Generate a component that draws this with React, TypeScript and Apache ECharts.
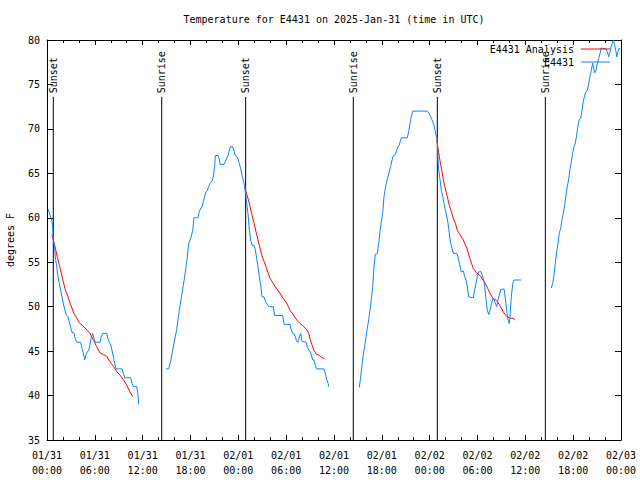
import React, { useEffect, useRef } from 'react';
import * as echarts from 'echarts';

const FONT = '"DejaVu Sans Mono", "Liberation Mono", monospace';

const chartTitle = 'Temperature for E4431 on 2025-Jan-31 (time in UTC)';
const dayLabels = ['01/31', '02/01', '02/02', '02/03'];
const yTitle = 'degrees F';
const obsName = 'E4431';
const anaName = 'E4431 Analysis';

// Sunrise / sunset times (hours since 01/31 00:00 UTC)
const eventHours = [0.79, 14.39, 24.92, 38.42, 48.96, 62.51];
const eventNames = ['Sunset', 'Sunrise', 'Sunset', 'Sunrise', 'Sunset', 'Sunrise'];
const eventLineTop = 73.6;
const eventLabelBase = 74.0;

// Observed temperature segments: [hour, degF]
const obsSeg1 = [
  [0.13, 61], [0.38, 60.3], [0.63, 59.6], [0.71, 58.8], [0.79, 57.5], [0.97, 56.8], [1.04, 55.6],
  [1.22, 54.5], [1.38, 53.4], [1.54, 52.6], [1.72, 51.9], [1.88, 51.1], [2.04, 50.4], [2.22, 49.7],
  [2.38, 49.1], [2.63, 48.9], [2.8, 48.3], [2.97, 47.7], [3.14, 47.1], [3.39, 47], [3.55, 46.4],
  [3.73, 46], [4.23, 46], [4.39, 45.3], [4.55, 44.8], [4.73, 44], [4.89, 44.6], [5.06, 44.9],
  [5.23, 45.1], [5.39, 45.7], [5.56, 46.6], [5.73, 47], [5.9, 46.4], [6.06, 46], [6.65, 46],
  [6.81, 46.6], [6.99, 47], [7.49, 47], [7.65, 46.4], [7.81, 46], [7.99, 45.7], [8.15, 45.1],
  [8.32, 44.4], [8.49, 43.6], [8.66, 43], [9.41, 43], [9.57, 42.5], [9.75, 42], [10.5, 42],
  [10.66, 41.4], [10.83, 41], [11.25, 41], [11.41, 40.1], [11.5, 39],
];
const obsSeg2 = [
  [14.93, 43], [15.27, 43], [15.43, 43.6], [15.59, 44.2], [15.77, 45.1], [15.93, 45.9], [16.09, 46.6],
  [16.27, 47.4], [16.43, 48.5], [16.6, 49.6], [16.77, 50.6], [16.93, 51.5], [17.1, 52.4], [17.27, 53.4],
  [17.44, 54.5], [17.6, 55.6], [17.77, 57.1], [17.94, 57.5], [18.1, 57.9], [18.28, 58.6], [18.44, 60],
  [18.94, 60], [19.1, 60.7], [19.28, 61.1], [19.44, 61.2], [19.61, 61.8], [19.78, 62.4], [19.94, 62.9],
  [20.11, 63.1], [20.28, 63.5], [20.45, 63.9], [20.7, 64.1], [20.86, 64.6], [21.04, 65.9], [21.11, 67],
  [21.45, 67], [21.61, 66.6], [21.7, 66], [22.2, 66], [22.37, 66.3], [22.54, 66.7], [22.7, 67],
  [22.87, 67.6], [23.04, 68], [23.29, 68], [23.46, 67.5], [23.62, 67], [23.8, 66.9], [23.96, 66.6],
  [24.12, 66.1], [24.3, 65.5], [24.46, 64.8], [24.62, 64.2], [24.8, 63.5], [24.87, 62.9], [24.96, 62.4],
  [25.05, 61.6], [25.21, 60.5], [25.38, 58.6], [25.55, 57.5], [25.72, 56.9], [25.97, 56.9], [26.13, 56.4],
  [26.3, 55.4], [26.47, 54.5], [26.63, 53.4], [26.81, 52.4], [26.97, 51.1], [27.22, 51.1], [27.39, 50.6],
  [27.56, 50.4], [27.72, 50.1], [27.89, 50], [28.39, 50], [28.56, 49], [29.57, 49], [29.73, 48],
  [30.48, 48], [30.65, 47.4], [30.82, 47], [30.98, 47], [31.15, 46.6], [31.32, 46.1], [31.49, 46],
  [31.65, 46.6], [31.82, 47], [31.99, 46.1], [32.49, 46], [32.65, 45.5], [32.83, 45.1], [32.99, 45],
  [33.15, 44.6], [33.33, 44], [33.49, 44], [33.66, 43.4], [33.83, 43], [34.75, 43], [34.91, 42.5],
  [35.09, 41.8], [35.25, 41.4], [35.33, 41],
];
const obsSeg3 = [
  [39.17, 40.9], [39.35, 42.1], [39.51, 43.4], [39.68, 44.6], [39.85, 45.5], [40.02, 46.6], [40.18, 47.6],
  [40.35, 48.5], [40.52, 49.6], [40.68, 50.8], [40.86, 52.3], [41.02, 54.5], [41.18, 55.9], [41.43, 56],
  [41.61, 57.1], [41.77, 58.4], [41.93, 59.6], [42.11, 60.5], [42.27, 62.4], [42.44, 63.3], [42.61, 64.1],
  [42.77, 64.6], [42.94, 65.2], [43.11, 65.8], [43.28, 66.5], [43.44, 67], [43.69, 67.1], [43.87, 67.6],
  [44.03, 68], [44.19, 68.2], [44.37, 68.8], [44.44, 69], [45.2, 69], [45.37, 69.7], [45.53, 70.6],
  [45.7, 71.4], [45.87, 72], [47.7, 72], [47.88, 71.8], [48.04, 71.5], [48.21, 71.2], [48.38, 70.8],
  [48.54, 70.4], [48.71, 69.7], [48.8, 69.3], [48.96, 68.8], [49.05, 66.5], [49.13, 65.4], [49.3, 64.3],
  [49.46, 63.1], [49.64, 62.4], [49.8, 61.6], [49.96, 60.9], [50.14, 60.2], [50.3, 59.4], [50.46, 58.3],
  [50.64, 57.1], [50.8, 56.6], [50.97, 56], [51.39, 56], [51.56, 55.6], [51.72, 54.9], [51.97, 53.9],
  [52.22, 54], [52.4, 53.4], [52.56, 53], [52.72, 52.3], [52.9, 51.1], [53.47, 51], [53.65, 51.9],
  [53.81, 52.6], [53.98, 53.4], [54.15, 53.9], [54.4, 54], [54.57, 53.6], [54.73, 53.2], [54.9, 52.3],
  [55.07, 50.8], [55.23, 49.6], [55.41, 49.1], [55.57, 49.6], [55.73, 50.2], [55.91, 50.9], [56.07, 50.8],
  [56.23, 50.4], [56.41, 50], [56.57, 50.8], [56.74, 51.3], [56.91, 51.9], [57.33, 52], [57.49, 50.9],
  [57.66, 49.6], [57.83, 48.5], [57.99, 48.1], [58.08, 48.9], [58.24, 51.1], [58.42, 52.6], [58.58, 53],
  [59.5, 53],
];
const obsSeg4 = [
  [63.26, 52.1], [63.43, 52.6], [63.6, 53.6], [63.76, 54.9], [63.94, 56.2], [64.1, 57.1], [64.26, 58.3],
  [64.44, 58.8], [64.6, 59.8], [64.76, 60.5], [64.94, 61.4], [65.1, 62.6], [65.27, 63.5], [65.44, 64.4],
  [65.6, 65.4], [65.77, 66.3], [65.94, 67.3], [66.11, 68], [66.27, 68.4], [66.44, 69.3], [66.61, 70.4],
  [66.77, 71.1], [66.95, 71.2], [67.11, 72.1], [67.27, 73.1], [67.45, 73.8], [67.61, 74.2], [67.77, 74.3],
  [67.95, 75.1], [68.11, 75.9], [68.28, 76.6], [68.45, 77.4], [68.53, 77], [68.7, 76.3], [68.87, 76.6],
  [69.03, 77.4], [69.2, 77.9], [69.37, 78.5], [69.53, 79.1], [70.12, 79], [70.28, 78.7], [70.46, 78.1],
  [70.62, 78.7], [70.79, 79.3], [70.96, 79.8], [71.04, 80], [71.21, 79.4], [71.37, 78.7], [71.46, 78.1],
  [71.62, 78.7], [71.79, 79.1], [71.88, 79],
];

// Analysis segments: [hour, degF]
const anaSeg1 = [
  [0.63, 58.1], [0.79, 57.5], [1.04, 56.6], [1.29, 55.6], [1.54, 54.7], [1.79, 53.8], [2.04, 52.8],
  [2.3, 51.9], [2.63, 51.1], [2.97, 50.2], [3.3, 49.4], [3.73, 48.7], [4.14, 48.1], [4.55, 47.8],
  [4.98, 47.4], [5.39, 47], [5.81, 46.3], [6.23, 45.5], [6.65, 44.8], [7.06, 44.6], [7.49, 44.4],
  [7.9, 43.8], [8.32, 43.3], [8.74, 42.7], [9.16, 42.3], [9.57, 41.8], [9.99, 41.2], [10.41, 40.4],
  [10.75, 39.9],
];
const anaSeg2 = [
  [24.8, 63.5], [24.96, 62.9], [25.21, 62.2], [25.46, 61.3], [25.72, 60.3], [25.97, 59.4], [26.22, 58.4],
  [26.47, 57.5], [26.72, 56.6], [26.97, 55.7], [27.22, 55.1], [27.47, 54.5], [27.72, 53.8], [27.97, 53.2],
  [28.39, 52.6], [28.81, 52], [29.23, 51.5], [29.64, 50.9], [30.07, 50.4], [30.48, 49.6], [30.9, 49.1],
  [31.32, 48.5], [31.74, 48.1], [32.15, 47.8], [32.58, 47.4], [32.83, 47], [32.99, 46.4], [33.24, 45.7],
  [33.49, 45.1], [33.74, 44.7], [34.16, 44.5], [34.5, 44.3], [34.83, 44.1],
];
const anaSeg3 = [
  [48.88, 68.8], [49.05, 67.8], [49.21, 66.9], [49.39, 65.9], [49.55, 65.2], [49.71, 64.3], [49.96, 63.3],
  [50.21, 62.4], [50.46, 61.4], [50.72, 60.7], [50.97, 59.9], [51.22, 59.4], [51.47, 58.6], [51.81, 58.1],
  [52.22, 57.5], [52.65, 56.6], [53.06, 55.4], [53.47, 54.3], [53.9, 53.8], [54.32, 53.5], [54.73, 53],
  [55.16, 52.3], [55.57, 51.5], [55.98, 50.9], [56.41, 50.7], [56.82, 50.1], [57.24, 49.4], [57.66, 48.9],
  [58.08, 48.7], [58.49, 48.7], [58.74, 48.5],
];

const joinSegments = (segs: number[][][]) =>
  segs.flatMap((s, i) => (i === 0 ? s : [[(segs[i - 1][segs[i - 1].length - 1][0] + s[0][0]) / 2, '-'], ...s]));

const Y_MIN = 35;
const Y_MAX = 80;
const X_MIN = 0;
const X_MAX = 72;

const LINE_ICON = 'path://M0,0H29V1H0Z';

export default function App() {
  const ref = useRef<HTMLDivElement>(null);
  useEffect(() => {
    if (!ref.current) return;
    const chart = echarts.init(ref.current, null, { renderer: 'svg' });
    const xLabel = (v: number) => {
      const d = Math.floor(v / 24);
      const h = Math.round(v - d * 24);
      return dayLabels[d] + '\n' + String(h).padStart(2, '0') + ':00';
    };
    const axisLineStyle = { color: '#000', width: 1 };
    const baseX = {
      type: 'value', min: X_MIN, max: X_MAX, interval: 6,
      axisLine: { show: true, onZero: false, lineStyle: axisLineStyle },
      axisTick: { show: true, inside: true, length: 5, lineStyle: axisLineStyle },
      minorTick: { show: true, splitNumber: 3, length: 3, lineStyle: axisLineStyle },
      splitLine: { show: false },
      minorSplitLine: { show: false },
    };
    const baseY = {
      type: 'value', min: Y_MIN, max: Y_MAX, interval: 5,
      axisLine: { show: true, onZero: false, lineStyle: axisLineStyle },
      axisTick: { show: true, inside: true, length: 6, lineStyle: axisLineStyle },
      splitLine: { show: false },
    };
    chart.setOption({
      animation: false,
      backgroundColor: '#fff',
      title: {
        text: chartTitle,
        left: 334,
        textAlign: 'center',
        top: 14,
        padding: 0,
        textStyle: { fontFamily: FONT, fontSize: 10, fontWeight: 'normal', color: '#000' },
      },
      legend: {
        data: [
          { name: anaName, icon: LINE_ICON },
          { name: obsName, icon: LINE_ICON },
        ],
        orient: 'vertical',
        right: 30,
        top: 44,
        padding: 0,
        align: 'right',
        itemWidth: 29,
        itemHeight: 10,
        itemGap: 3,
        symbolKeepAspect: true,
        textStyle: { fontFamily: FONT, fontSize: 10, color: '#000', padding: [0, 2, 0, 0] },
      },
      grid: { left: 47, right: 19, top: 40, bottom: 40, containLabel: false, outerBoundsMode: 'none' },
      xAxis: [
        {
          ...baseX,
          position: 'bottom',
          axisLabel: {
            formatter: xLabel, fontFamily: FONT, fontSize: 10, color: '#000', lineHeight: 15, margin: 8,
            showMinLabel: true, showMaxLabel: true,
          },
        },
        { ...baseX, position: 'top', axisLabel: { show: false } },
      ],
      yAxis: [
        {
          ...baseY,
          position: 'left',
          name: yTitle,
          nameLocation: 'middle',
          nameRotate: 90,
          nameGap: 32,
          nameTextStyle: { fontFamily: FONT, fontSize: 10, color: '#000' },
          axisLabel: { fontFamily: FONT, fontSize: 10, color: '#000', margin: 7 },
        },
        { ...baseY, position: 'right', axisLabel: { show: false } },
      ],
      series: [
        {
          type: 'custom',
          name: 'events',
          silent: true,
          clip: false,
          z: 1,
          data: eventHours.map((h) => [h, Y_MIN]),
          encode: { x: 0, y: 1 },
          renderItem: (params: any, api: any) => {
            const h = api.value(0);
            const b = api.coord([h, Y_MIN]);
            const t = api.coord([h, eventLineTop]);
            const l = api.coord([h, eventLabelBase]);
            return {
              type: 'group',
              children: [
                {
                  type: 'line',
                  shape: { x1: b[0], y1: b[1], x2: t[0], y2: t[1] },
                  style: { stroke: '#000', lineWidth: 1 },
                },
                {
                  type: 'text',
                  x: l[0],
                  y: l[1],
                  rotation: Math.PI / 2,
                  style: {
                    text: eventNames[params.dataIndex],
                    fill: '#000',
                    fontFamily: FONT,
                    fontSize: 10,
                    align: 'left',
                    verticalAlign: 'middle',
                  },
                },
              ],
            };
          },
        },
        {
          type: 'line',
          name: anaName,
          data: joinSegments([anaSeg1, anaSeg2, anaSeg3]),
          symbol: 'none',
          connectNulls: false,
          lineStyle: { color: '#ff0000', width: 1 },
          itemStyle: { color: '#ff0000' },
          z: 2,
        },
        {
          type: 'line',
          name: obsName,
          data: joinSegments([obsSeg1, obsSeg2, obsSeg3, obsSeg4]),
          symbol: 'none',
          connectNulls: false,
          lineStyle: { color: '#0a84ff', width: 1 },
          itemStyle: { color: '#0a84ff' },
          z: 3,
        },
      ],
    });
    return () => chart.dispose();
  }, []);
  return (
    <div
      ref={ref}
      style={{ position: 'fixed', left: 0, top: 0, width: 640, height: 480, background: '#fff' }}
    />
  );
}
